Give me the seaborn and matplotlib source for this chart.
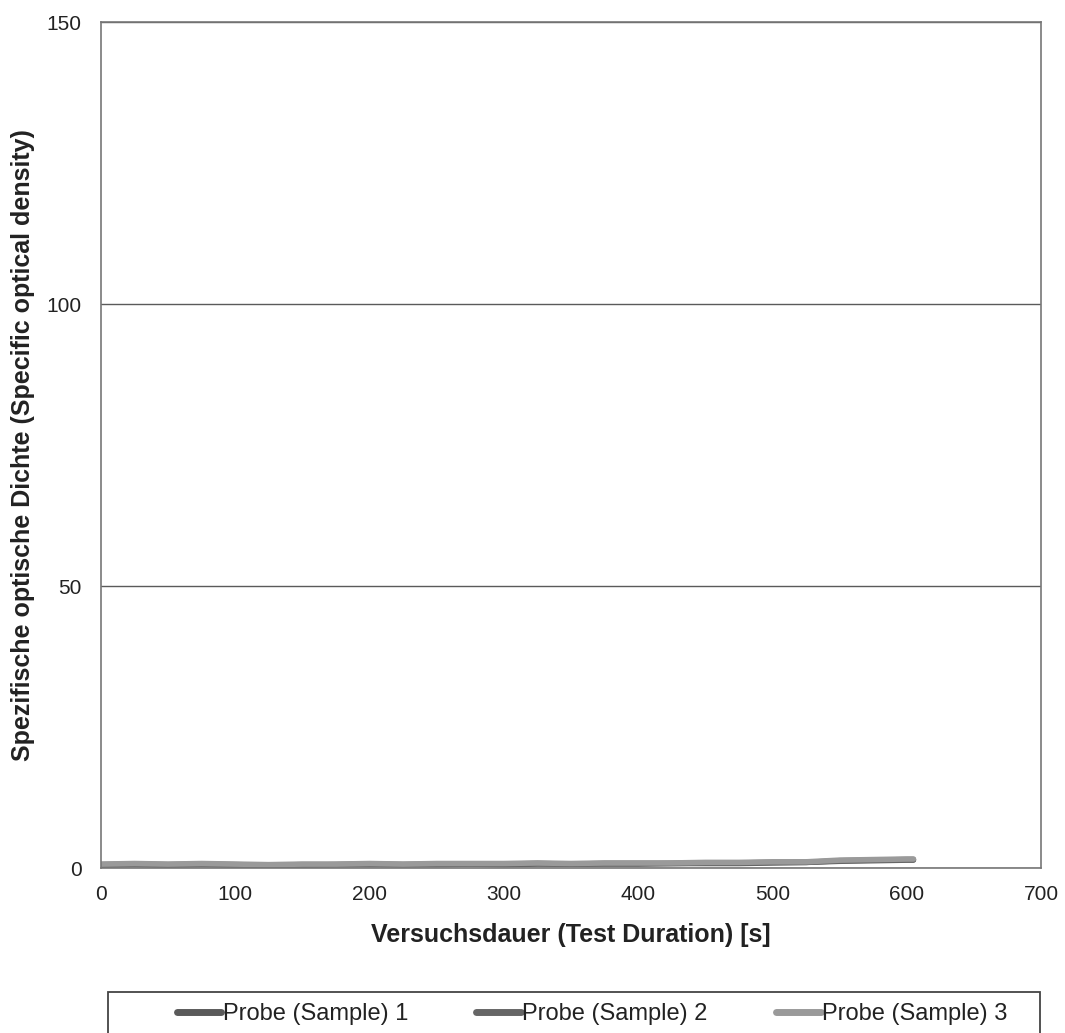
import matplotlib
matplotlib.use("Agg")
import matplotlib.pyplot as plt
from matplotlib.patches import Rectangle
import pandas as pd
import seaborn as sns

# Data (time in s, specific optical density)
time_s = [0, 25, 50, 75, 100, 125, 150, 175, 200, 225, 250, 275, 300,
          325, 350, 375, 400, 425, 450, 475, 500, 525, 550, 575, 600, 605]
sample_1 = [0.6, 0.7, 0.6, 0.7, 0.6, 0.5, 0.6, 0.6, 0.7, 0.6, 0.7, 0.7, 0.7,
            0.8, 0.7, 0.8, 0.8, 0.8, 0.9, 0.9, 1.0, 1.0, 1.3, 1.4, 1.5, 1.5]
sample_2 = [0.5, 0.6, 0.5, 0.6, 0.5, 0.5, 0.5, 0.6, 0.6, 0.6, 0.6, 0.7, 0.6,
            0.7, 0.7, 0.7, 0.7, 0.8, 0.8, 0.8, 0.9, 1.0, 1.2, 1.3, 1.4, 1.4]
sample_3 = [0.7, 0.8, 0.7, 0.8, 0.7, 0.6, 0.7, 0.7, 0.8, 0.7, 0.8, 0.8, 0.8,
            0.9, 0.8, 0.9, 0.9, 0.9, 1.0, 1.0, 1.1, 1.1, 1.4, 1.5, 1.6, 1.6]
labels = ["Probe (Sample) 1", "Probe (Sample) 2", "Probe (Sample) 3"]
colors = ["#5a5a5a", "#666666", "#9a9a9a"]

df = pd.concat([
    pd.DataFrame({"t": time_s, "v": vals, "series": lab})
    for vals, lab in zip([sample_1, sample_2, sample_3], labels)
])

sns.set_style("white")
plt.rcParams["font.family"] = ["Liberation Sans", "DejaVu Sans"]

fig = plt.figure(figsize=(10.65, 10.33), dpi=100)
ax = fig.add_axes([0.0948, 0.1597, 0.8827, 0.819])

sns.lineplot(data=df, x="t", y="v", hue="series", palette=colors,
             linewidth=4, ax=ax, legend=False)

ax.set_xlim(0, 700)
ax.set_ylim(0, 150)
ax.set_xticks(range(0, 701, 100))
ax.set_yticks([0, 50, 100, 150])
ax.yaxis.grid(True, color="#5a5a5a", linewidth=1)
ax.set_axisbelow(True)
for s in ax.spines.values():
    s.set_color("#777777")
    s.set_linewidth(1.2)
ax.tick_params(axis="both", labelsize=15, length=6, width=1,
               direction="out", colors="#555555", labelcolor="#222222")
ax.tick_params(axis="y", pad=8)
ax.tick_params(axis="x", pad=6)

ax.set_xlabel("Versuchsdauer (Test Duration) [s]", fontsize=18,
              fontweight="bold", labelpad=14, color="#222222")
ax.set_ylabel("Spezifische optische Dichte (Specific optical density)",
              fontsize=18, fontweight="bold", labelpad=8, color="#222222")

# legend box, running off the bottom edge like in the scan
fig.patches.append(Rectangle((108 / 1065, -0.02), 932 / 1065, 0.02 + 41 / 1033,
                             transform=fig.transFigure, fill=False,
                             edgecolor="#444444", linewidth=1.3))
handles = [plt.Line2D([], [], color=c, linewidth=5) for c in colors]
leg = fig.legend(handles, labels, loc="center", bbox_to_anchor=(0.556, 0.0184),
                 ncol=3, fontsize=17, frameon=False, handlelength=1.9,
                 handletextpad=0.05, columnspacing=2.9, borderaxespad=0,
                 borderpad=0)
for t in leg.get_texts():
    t.set_color("#222222")

fig.savefig("out.png", dpi=100)
